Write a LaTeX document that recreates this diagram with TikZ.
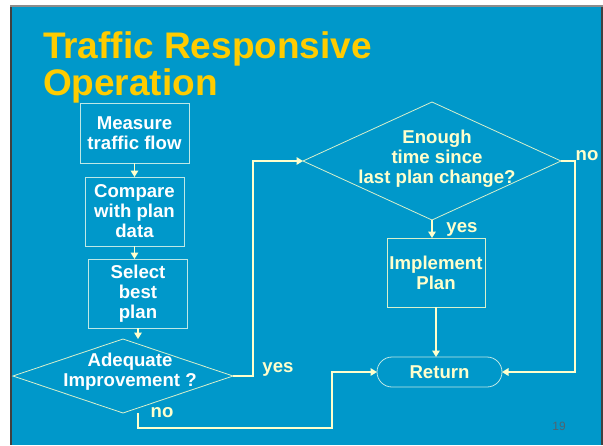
\documentclass[tikz,border=0pt]{standalone}
\usepackage{fontspec}
\setmainfont{Liberation Sans}
\usetikzlibrary{shapes.geometric,arrows.meta}
\definecolor{slide}{RGB}{0,152,202}
\definecolor{gold}{RGB}{255,204,0}
\definecolor{cream}{RGB}{255,255,204}
\definecolor{edgepale}{RGB}{190,232,230}
\definecolor{pagenum}{RGB}{80,100,112}
\begin{document}
\begin{tikzpicture}[x=1pt,y=-1pt,
  every node/.style={inner sep=0pt,outer sep=0pt},
  txt/.style={font=\fontsize{18.6}{20}\selectfont\bfseries,align=center},
  stepbox/.style={draw=edgepale,line width=0.8pt,txt,text=white},
  crbox/.style={draw=cream!85!slide,line width=0.8pt,txt,text=cream},
  decision/.style={diamond,draw=cream!85!slide,line width=0.8pt},
  conn/.style={draw=cream,line width=1.8pt,-{Triangle[length=6.5pt,width=7.5pt]}},
  tag/.style={font=\fontsize{18.6}{20}\selectfont\bfseries,text=cream},
  title/.style={font=\fontsize{37}{37}\selectfont\bfseries,text=gold,anchor=base west}]

% slide frame and background
\useasboundingbox (0,0) rectangle (603,445);
\fill[white] (0,0) rectangle (603,445);
\fill[black!75] (10,5) rectangle (603,445);
\fill[black!45] (10,5) rectangle (603,7);
\fill[slide] (12,7) rectangle (601,445);

% heading
\node[title] (title1) at (43,58) {Traffic Responsive};
\node[title] (title2) at (43,95) {Operation};

% left column
\node[stepbox,minimum width=109pt,minimum height=60pt] (measure) at (134.5,133) {Measure\\traffic flow};
\node[stepbox,minimum width=99pt,minimum height=69pt] (compare) at (134.5,211.5) {Compare\\with plan\\data};
\node[stepbox,minimum width=99pt,minimum height=69pt] (select) at (138,293.5) {Select\\best\\plan};
\node[decision,minimum width=220pt,minimum height=74pt] (adequate) at (123,376) {};
\node[txt,text=white] (adequatetxt) at (130,372) {Adequate\\Improvement ?};

% right column
\node[decision,minimum width=258pt,minimum height=118pt] (enough) at (432,161) {};
\node[txt,text=cream] (enoughtxt) at (437,159) {Enough\\time since\\last plan change?};
\node[crbox,minimum width=98pt,minimum height=69pt] (implement) at (436,272.5) {Implement\\Plan};
\node[draw=edgepale,line width=0.8pt,rounded corners=15pt,minimum width=125pt,minimum height=30pt,txt,text=cream] (return) at (439.5,372) {Return};

% connectors
\draw[conn] (measure.south) -- (compare.north);
\draw[conn] (compare.south) -- (compare.south |- select.north);
\draw[conn] (select.south) -- (select.south |- adequate.north);
\draw[conn] (adequate.east) -- ++(20,0) |- (enough.west);
\draw[conn] ([xshift=15pt]adequate.south) -- ++(0,15) -| ([xshift=-45pt]return.west) -- (return.west);
\draw[conn] (enough.south) -- (enough.south |- implement.north);
\draw[conn] (enough.east) -- ++(14,0) |- (return.east);
\draw[conn] (implement.south) -- (implement.south |- return.north);

% branch labels
\node[tag] (yesleft) at (278,369) {yes};
\node[tag] (noleft) at (162,413) {no};
\node[tag] (yesdown) at (462,229) {yes};
\node[tag] (noright) at (587,156) {no};

% page number
\node[font=\fontsize{12}{12}\selectfont,text=pagenum] (page) at (559,426) {19};
\end{tikzpicture}
\end{document}
